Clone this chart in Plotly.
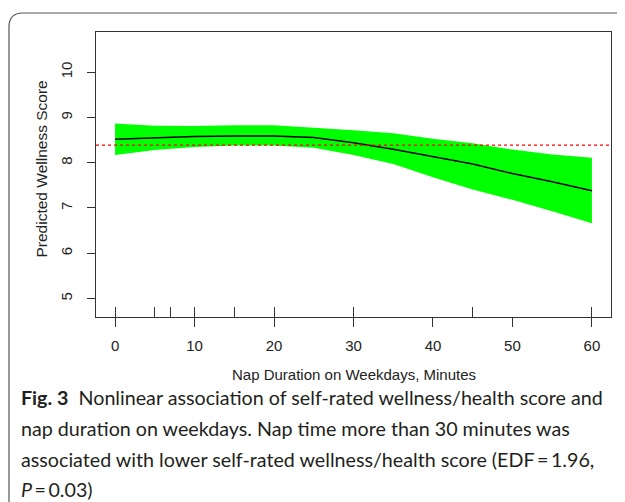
import plotly.graph_objects as go

# ---- data ----
nap_minutes = [0, 5, 10, 15, 20, 25, 30, 35, 40, 45, 50, 55, 60]
predicted = [8.52, 8.55, 8.58, 8.59, 8.59, 8.56, 8.44, 8.30, 8.13, 7.97, 7.76, 7.58, 7.38]
upper_ci = [8.87, 8.82, 8.81, 8.83, 8.83, 8.78, 8.72, 8.65, 8.53, 8.43, 8.29, 8.18, 8.11]
lower_ci = [8.17, 8.28, 8.35, 8.38, 8.38, 8.33, 8.17, 7.97, 7.68, 7.41, 7.18, 6.93, 6.66]
rug_values = [0, 5, 7, 10, 15, 20, 30, 45, 60]
reference_score = 8.39
x_ticks = [0, 10, 20, 30, 40, 50, 60]
y_ticks = [5, 6, 7, 8, 9, 10]

# the page adds an 8px body margin, so the figure is drawn 8px smaller and
# all target pixel positions are shifted by that offset
OFF = 8
W, H = 625 - OFF, 502 - OFF
PL, PR, PT, PB = 96, 611, 32, 317  # plot box in window pixels


def px(x):
    return (x - OFF) / W


def py(y):
    return 1 - (y - OFF) / H


AX = "#333333"
FONT = "Liberation Sans, Arial, sans-serif"
TXT = "#222222"

fig = go.Figure()

# confidence band
fig.add_trace(go.Scatter(x=nap_minutes, y=upper_ci, mode="lines",
                         line=dict(width=0, color="#00FF00"), hoverinfo="skip",
                         showlegend=False))
fig.add_trace(go.Scatter(x=nap_minutes, y=lower_ci, mode="lines",
                         line=dict(width=0, color="#00FF00"), fill="tonexty",
                         fillcolor="#00FF00", hoverinfo="skip", showlegend=False))
# fitted line
fig.add_trace(go.Scatter(x=nap_minutes, y=predicted, mode="lines",
                         line=dict(width=1.5, color="black"), showlegend=False))
# rug (inside ticks on an overlaying axis)
fig.add_trace(go.Scatter(x=rug_values, y=[None] * len(rug_values), xaxis="x2",
                         mode="markers", showlegend=False, hoverinfo="skip"))

# reference dotted line
fig.add_shape(type="line", xref="x domain", x0=0, x1=1, yref="y",
              y0=reference_score, y1=reference_score,
              line=dict(color="red", width=1.2, dash="dot"))

# outer rounded frame
r = 14
x0, y0, x1, y1 = 9, 13, 660, 540
path = (f"M {px(x0)} {py(y1)} L {px(x0)} {py(y0 + r)} "
        f"Q {px(x0)} {py(y0)} {px(x0 + r)} {py(y0)} L {px(x1)} {py(y0)}")
fig.add_shape(type="path", xref="paper", yref="paper", path=path,
              line=dict(color="#555555", width=1.2))

fig.update_layout(
    width=W, height=H,
    margin=dict(l=0, r=0, t=0, b=0),
    paper_bgcolor="white", plot_bgcolor="white",
    font=dict(family=FONT, size=14, color=TXT),
    xaxis=dict(domain=[px(PL), px(PR)], range=[-2.4, 62.4],
               tickvals=x_ticks, ticks="outside", ticklen=9, tickwidth=1.2,
               tickcolor=AX, showline=True, linecolor=AX, linewidth=1.2,
               mirror=True, showgrid=False, zeroline=False,
               ticklabelstandoff=6,
               tickfont=dict(size=15, color=TXT)),
    xaxis2=dict(overlaying="x", anchor="y", side="bottom", range=[-2.4, 62.4],
                tickvals=rug_values, ticks="inside", ticklen=10, tickwidth=1.2,
                tickcolor=AX, showticklabels=False, showgrid=False,
                zeroline=False, showline=False),
    yaxis=dict(domain=[py(PB), py(PT)], range=[4.59, 10.89],
               tickvals=y_ticks, ticks="outside", ticklen=8, tickwidth=1.2,
               tickcolor=AX, showline=True, linecolor=AX, linewidth=1.2,
               mirror=True, showgrid=False, zeroline=False, tickangle=-90,
               ticklabelstandoff=9,
               tickfont=dict(size=15, color=TXT)),
)

# axis titles
fig.add_annotation(text="Nap Duration on Weekdays, Minutes", xref="paper",
                   yref="paper", x=px((PL + PR) / 2), y=py(374),
                   showarrow=False, xanchor="center", yanchor="middle",
                   font=dict(size=15, color=TXT, family=FONT))
fig.add_annotation(text="Predicted Wellness Score", xref="paper", yref="paper",
                   x=px(41), y=py((PT + PB) / 2 - 5), textangle=-90,
                   showarrow=False, xanchor="center", yanchor="middle",
                   font=dict(size=15.5, color=TXT, family=FONT))

# caption
CAP = "Lato, sans-serif"
caption_lines = [
    "<b>Fig. 3</b>  Nonlinear association of self-rated wellness/health score and",
    "nap duration on weekdays. Nap time more than 30 minutes was",
    "associated with lower self-rated wellness/health score (EDF\u2009=\u20091.96,",
    "<i>P</i>\u2009=\u20090.03)",
]
caption_y = [397, 428, 459, 489]
for line, yy in zip(caption_lines, caption_y):
    fig.add_annotation(text=line, xref="paper", yref="paper", x=px(19),
                       y=py(yy), showarrow=False, xanchor="left",
                       yanchor="middle",
                       font=dict(size=19.7, color="#231f20", family=CAP))

fig.write_html("out.html")
